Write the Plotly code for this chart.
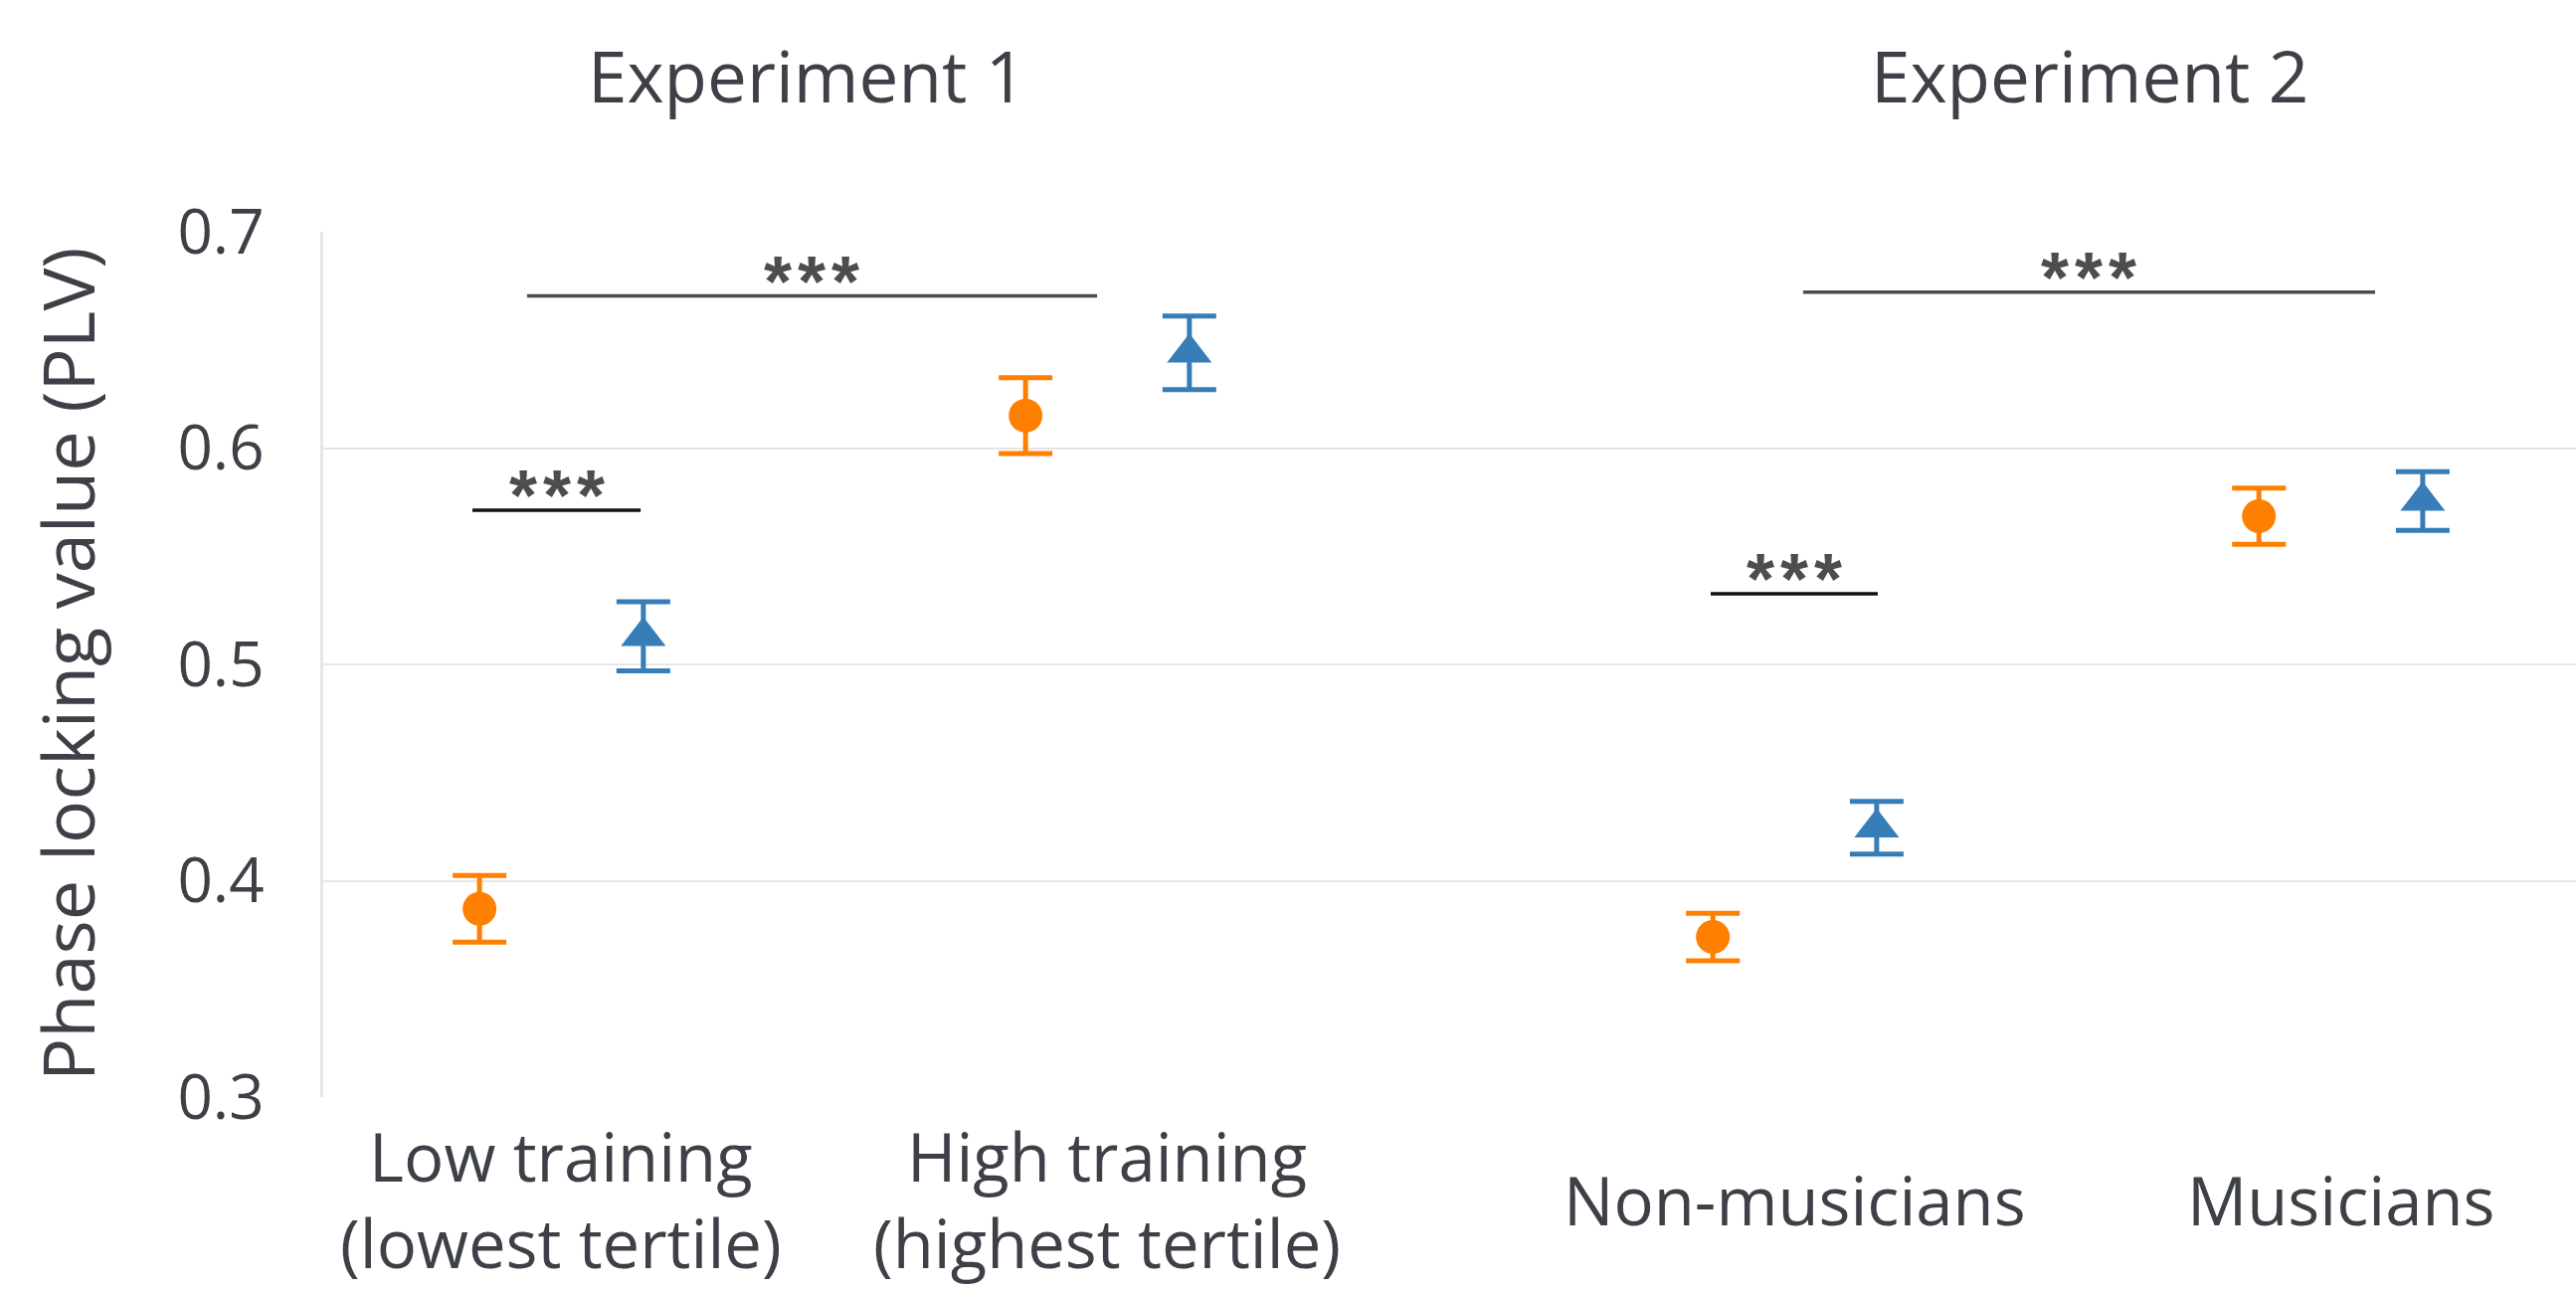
import plotly.graph_objects as go

# Group labels and phase-locking values (mean and standard error)
categories = [
    "Low training<br>(lowest tertile)",
    "High training<br>(highest tertile)",
    "Non-musicians",
    "Musicians",
]
circle_mean = [0.387, 0.615, 0.374, 0.5685]
circle_err = [0.0154, 0.0175, 0.011, 0.013]
triangle_mean = [0.513, 0.644, 0.4245, 0.5755]
triangle_err = [0.016, 0.017, 0.0122, 0.0136]

experiment_titles = ["Experiment 1", "Experiment 2"]
y_ticks = [0.3, 0.4, 0.5, 0.6, 0.7]
y_tick_labels = ["0.3", "0.4", "0.5", "0.6", "0.7"]

# Significance brackets: (x start, x end, height, label)
brackets = [
    (-0.063, 0.981, 0.6703, "*\u200a*\u200a*"),
    (-0.163, 0.145, 0.5713, "*\u200a*\u200a*"),
    (2.274, 3.3215, 0.6721, "*\u200a*\u200a*"),
    (2.1047, 2.4107, 0.5327, "*\u200a*\u200a*"),
]

# Layout: group centres on the x axis (gap between the two experiments)
group_pos = [0.0, 1.0, 2.2587, 3.2587]
offset = 0.15
title_pos = [0.449, 2.7996]

ORANGE = "#FF7F00"
BLUE = "#377EB8"
TEXT = "#3d4046"
GRID = "#e6e6e6"
FONT = "Open Sans"

W, H = 2590, 1297
L, R, T, B = 325, 0, 233, 194

fig = go.Figure()

fig.add_trace(go.Scatter(
    x=[p - offset for p in group_pos],
    y=circle_mean,
    mode="markers",
    marker=dict(symbol="circle", size=34, color=ORANGE),
    error_y=dict(type="data", array=circle_err, color=ORANGE, thickness=5, width=27),
    showlegend=False,
))
fig.add_trace(go.Scatter(
    x=[p + offset for p in group_pos],
    y=triangle_mean,
    mode="markers",
    marker=dict(symbol="triangle-up", size=39, color=BLUE),
    error_y=dict(type="data", array=triangle_err, color=BLUE, thickness=5, width=27),
    showlegend=False,
))

shapes = []
annotations = []
for i, (x0, x1, yv, label) in enumerate(brackets):
    color = "#4d4d4d" if i % 2 == 0 else "#111111"
    shapes.append(dict(type="line", xref="x", yref="y", x0=x0, x1=x1, y0=yv, y1=yv,
                       line=dict(color=color, width=3.5)))
    annotations.append(dict(x=(x0 + x1) / 2, y=yv, xref="x", yref="y", text=label,
                            showarrow=False, xanchor="center", yanchor="bottom", yshift=-27,
                            font=dict(family="Liberation Sans", size=72, color="#4d4d4d",
                                      weight="bold")))

# Category labels, vertically centred beneath each group
for p, c in zip(group_pos, categories):
    annotations.append(dict(x=p, y=-0.118, xref="x", yref="paper", text=c, showarrow=False,
                            xanchor="center", yanchor="middle",
                            font=dict(family=FONT, size=67, color=TEXT)))

# Experiment headings
for xp, t in zip(title_pos, experiment_titles):
    annotations.append(dict(x=xp, y=1.181, xref="x", yref="paper", text=t, showarrow=False,
                            xanchor="center", yanchor="middle",
                            font=dict(family=FONT, size=71, color=TEXT)))

# Y axis title
annotations.append(dict(x=-0.1139, y=0.5, xref="paper", yref="paper",
                        text="Phase locking value (PLV)", textangle=-90, showarrow=False,
                        xanchor="center", yanchor="middle",
                        font=dict(family=FONT, size=72, color=TEXT)))

fig.update_layout(
    width=W, height=H,
    margin=dict(l=L, r=R, t=T, b=B, pad=0),
    paper_bgcolor="white", plot_bgcolor="white",
    shapes=shapes, annotations=annotations,
    xaxis=dict(range=[-0.4362, 3.6894], showgrid=False, zeroline=False,
               showticklabels=False, ticks="", showline=False),
    yaxis=dict(range=[0.3, 0.7], tickvals=y_ticks, ticktext=y_tick_labels,
               showgrid=True, gridcolor=GRID, gridwidth=2, zeroline=False,
               showline=True, linecolor=GRID, linewidth=3, ticks="",
               ticklabelstandoff=44,
               tickfont=dict(family=FONT, size=62, color=TEXT)),
)

fig.write_html("out.html")
